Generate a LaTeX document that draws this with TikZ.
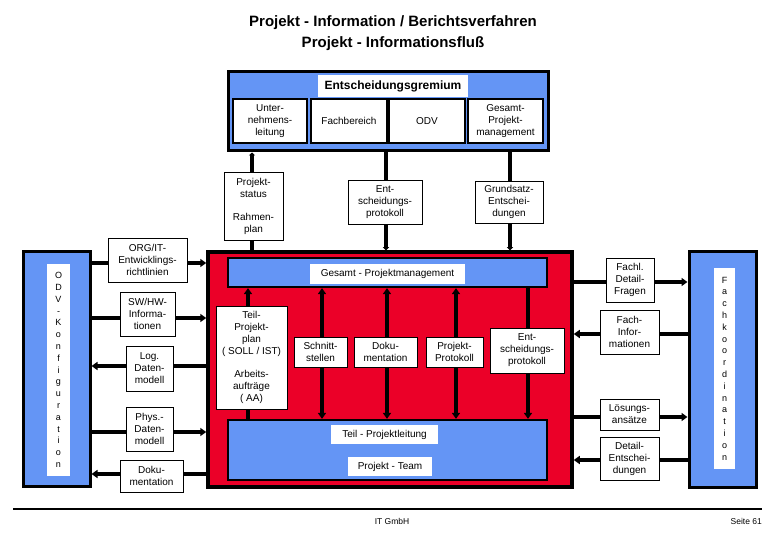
\documentclass[tikz,border=0pt]{standalone}
\usepackage{fontspec}
\setmainfont{Liberation Sans}
\usetikzlibrary{arrows.meta}
\definecolor{hellblau}{RGB}{100,149,245}
\definecolor{signalrot}{RGB}{235,0,40}

\begin{document}
\begin{tikzpicture}[
  x=1pt, y=-1pt,
  every node/.style={font=\fontsize{10}{12}\selectfont, align=center, inner sep=1pt},
  infobox/.style 2 args={draw, fill=white, line width=0.8pt, minimum width=#1, minimum height=#2},
  label/.style 2 args={fill=white, minimum width=#1, minimum height=#2},
  bigbox/.style 2 args={draw, line width=3pt, minimum width=#1, minimum height=#2},
  bar/.style 2 args={draw, fill=hellblau, line width=2.2pt, minimum width=#1, minimum height=#2},
  letters/.style={fill=white, font=\fontsize{9}{11.8}\selectfont},
  conn/.style={line width=3.6pt, >={Triangle[length=6pt,width=8pt]}},
  thin tip/.style={line width=3.6pt, >={Triangle[length=3pt,width=6pt]}}
]
\useasboundingbox (0,0) rectangle (780,540);

\node[font=\fontsize{15}{21}\selectfont\bfseries] (titel) at (393,33)
  {Projekt - Information / Berichtsverfahren\\Projekt - Informationsflu\ss};

\node[bigbox={320}{79}, fill=hellblau] (gremium) at (388,111.5) {};
\node[bigbox={364}{235}, fill=signalrot, line width=3.5pt] (rot) at (390,369.5) {};
\node[bigbox={67}{234}, fill=hellblau] (odv) at (56.5,369) {};
\node[bigbox={67}{235}, fill=hellblau] (fach) at (722.5,369.5) {};

\node[label={150}{22}, font=\fontsize{12}{14}\selectfont\bfseries] (gremtitel) at (393,86) {Entscheidungsgremium};
\node[infobox={74}{44}, line width=1.8pt] (leitung) at (270,121) {Unter-\\nehmens-\\leitung};
\node[infobox={76}{44}, line width=1.8pt] (fachber) at (349,121) {Fachbereich};
\node[infobox={76}{44}, line width=1.8pt] (odvbox) at (427,121) {ODV};
\node[infobox={75}{44}, line width=1.8pt] (gpmbox) at (505.5,121) {Gesamt-\\Projekt-\\management};

\node[bar={319}{29}] (gpm) at (387.5,272.5) {};
\node[label={155}{20}] (gpmtext) at (387.5,274) {Gesamt - Projektmanagement};
\node[bar={319}{60}] (tpl) at (387.5,450) {};
\node[label={107}{19}] (tpltext) at (384.5,434.5) {Teil - Projektleitung};
\node[label={84}{19}] (team) at (390,466.5) {Projekt - Team};

\node[letters, minimum width=23, minimum height=212] (odvtext) at (58.5,370)
  {O\\D\\V\\-\\K\\o\\n\\f\\i\\g\\u\\r\\a\\t\\i\\o\\n};
\node[letters, minimum width=21, minimum height=201] (fachtext) at (724.5,368.5)
  {F\\a\\c\\h\\k\\o\\o\\r\\d\\i\\n\\a\\t\\i\\o\\n};

\draw[thin tip, ->] (rot.north -| 252,0) -- (gremium.south -| 252,0);
\draw[thin tip, ->] (gremium.south -| 386,0) -- (rot.north -| 386,0);
\draw[thin tip, ->] (gremium.south -| 510,0) -- (rot.north -| 510,0);

\draw[conn, ->] (tpl.north -| 248,0) -- (gpm.south -| 248,0);
\draw[conn, <->] (tpl.north -| 322,0) -- (gpm.south -| 322,0);
\draw[conn, <->] (tpl.north -| 387,0) -- (gpm.south -| 387,0);
\draw[conn, <->] (tpl.north -| 456,0) -- (gpm.south -| 456,0);
\draw[conn, ->] (gpm.south -| 528,0) -- (tpl.north -| 528,0);

\draw[conn, ->] (odv.east |- 0,263) -- (rot.west |- 0,263);
\draw[conn, ->] (odv.east |- 0,318) -- (rot.west |- 0,318);
\draw[conn, <-] (odv.east |- 0,366) -- (rot.west |- 0,366);
\draw[conn, ->] (odv.east |- 0,432) -- (rot.west |- 0,432);
\draw[conn, <-] (odv.east |- 0,474) -- (rot.west |- 0,474);

\draw[conn, ->] (rot.east |- 0,282) -- (fach.west |- 0,282);
\draw[conn, <-] (rot.east |- 0,334) -- (fach.west |- 0,334);
\draw[conn, ->] (rot.east |- 0,417) -- (fach.west |- 0,417);
\draw[conn, <-] (rot.east |- 0,460) -- (fach.west |- 0,460);

\node[infobox={59}{68}] (status) at (253.5,206) {Projekt-\\status\\[11pt]Rahmen-\\plan};
\node[infobox={74}{44}] (entprot) at (385,202) {Ent-\\scheidungs-\\protokoll};
\node[infobox={68}{42}] (grundsatz) at (509,202) {Grundsatz-\\Entschei-\\dungen};

\node[infobox={71}{103}] (teilplan) at (251.5,357.5)
  {Teil-\\Projekt-\\plan\\( SOLL / IST)\\[11pt]Arbeits-\\aufträge\\( AA)};
\node[infobox={53}{30}] (schnitt) at (320.5,352) {Schnitt-\\stellen};
\node[infobox={63}{30}] (doku) at (385.5,352) {Doku-\\mentation};
\node[infobox={57}{30}] (protokoll) at (454.5,352) {Projekt-\\Protokoll};
\node[infobox={74}{45}] (entprot2) at (527,350.5) {Ent-\\scheidungs-\\protokoll};

\node[infobox={79}{44}] (richtlinien) at (147.5,260) {ORG/IT-\\Entwicklings-\\richtlinien};
\node[infobox={55}{44}] (swhw) at (147.5,314) {SW/HW-\\Informa-\\tionen};
\node[infobox={47}{45}] (logdm) at (149.5,368.5) {Log.\\Daten-\\modell};
\node[infobox={47}{44}] (physdm) at (149.5,429) {Phys.-\\Daten-\\modell};
\node[infobox={63}{32}] (dokuodv) at (151.5,476) {Doku-\\mentation};

\node[infobox={48}{44}] (fragen) at (630,280) {Fachl.\\Detail-\\Fragen};
\node[infobox={59}{44}] (fachinfo) at (629.5,332) {Fach-\\Infor-\\mationen};
\node[infobox={59}{31}] (loesung) at (629.5,414.5) {Lösungs-\\ansätze};
\node[infobox={59}{43}] (detailent) at (629.5,458.5) {Detail-\\Entschei-\\dungen};

\coordinate (fussl) at (13,509);
\coordinate (fussr) at (762,509);
\draw[line width=1.5pt] (fussl) -- (fussr);
\node[font=\fontsize{8.5}{10}\selectfont] (firma) at (392,521) {IT GmbH};
\node[font=\fontsize{8.5}{10}\selectfont, anchor=east] (seite) at (763,521) {Seite 61};
\end{tikzpicture}
\end{document}
